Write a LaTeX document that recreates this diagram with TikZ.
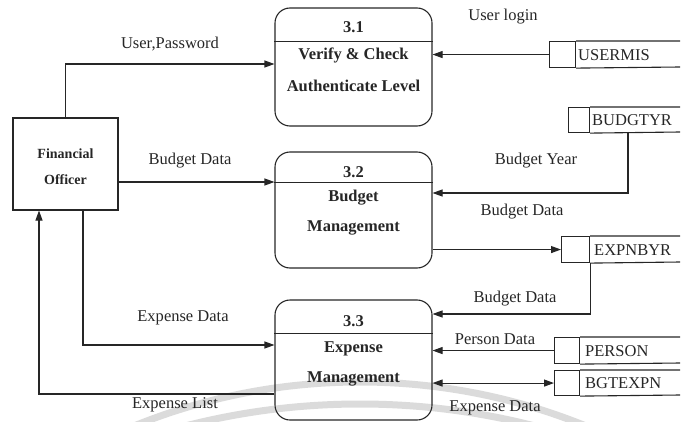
\documentclass[tikz,border=0pt]{standalone}
\usepackage{fontspec}
\setmainfont{Liberation Serif}
\usetikzlibrary{arrows.meta,calc}
\begin{document}
\begin{tikzpicture}[x=1pt,y=-1pt,
  ink/.style={draw=black!85, line width=1.1pt},
  flow/.style={ink, -{Triangle[length=10pt,width=7pt]}},
  biflow/.style={ink, {Triangle[length=10pt,width=7pt]}-{Triangle[length=10pt,width=7pt]}},
  proc/.style={ink, rounded corners=15pt, minimum width=157pt, inner sep=0pt},
  ext/.style={ink, minimum width=105pt, minimum height=92pt, inner sep=0pt},
  lbl/.style={text=black!85, font=\fontsize{16.5}{18}\selectfont, inner sep=0pt},
  blbl/.style={lbl, font=\fontsize{16.5}{18}\selectfont\bfseries},
  slot/.style={ink, inner sep=0pt, minimum height=26pt},
  stext/.style={lbl, anchor=west},
  wm/.style={draw=black!14, line width=7pt}
]
\useasboundingbox (0,0) rectangle (684,422);

% faint background arcs
\draw[wm] (360,982) circle[radius=600];
\draw[wm] (360,1104) circle[radius=700];

% external entity
\node[ext] (fo) at (65.5,164) {};
\node[blbl, font=\fontsize{14}{16}\selectfont\bfseries] (fo1) at (65.5,154) {Financial};
\node[blbl, font=\fontsize{14}{16}\selectfont\bfseries] (fo2) at (65.5,180) {Officer};

% processes
\node[proc, minimum height=118pt] (p31) at (353.5,67) {};
\draw[ink] ($(p31.north west)+(0,34)$) -- ($(p31.north east)+(0,34)$);
\node[blbl] (n31) at (353.5,27) {3.1};
\node[blbl] (t31a) at (353.5,55) {Verify \& Check};
\node[blbl] (t31b) at (353.5,86) {Authenticate Level};

\node[proc, minimum height=116pt] (p32) at (353.5,210) {};
\draw[ink] ($(p32.north west)+(0,31)$) -- ($(p32.north east)+(0,31)$);
\node[blbl] (n32) at (353.5,172) {3.2};
\node[blbl] (t32a) at (353.5,198) {Budget};
\node[blbl] (t32b) at (353.5,228) {Management};

\node[proc, minimum height=120pt] (p33) at (353.5,360) {};
\draw[ink] ($(p33.north west)+(0,34)$) -- ($(p33.north east)+(0,34)$);
\node[blbl] (n33) at (353.5,321) {3.3};
\node[blbl] (t33a) at (353.5,349) {Expense};
\node[blbl] (t33b) at (353.5,379) {Management};

% data stores: closed left slot, open right end
\node[slot, minimum width=26pt, anchor=north west] (usL) at (549,41) {};
\draw[ink] (usL.north east) -- (680,41) (usL.south east) -- (680,67);
\node[stext] (us) at (578,55) {USERMIS};

\node[slot, minimum width=21pt, minimum height=25pt, anchor=north west] (buL) at (568,107) {};
\draw[ink] (buL.north east) -- (680,107) (buL.south east) -- (680,132);
\node[stext] (bu) at (592,120) {BUDGTYR};
\coordinate (buOut) at (628,132);

\node[slot, minimum width=28pt, anchor=north west] (exL) at (561,236) {};
\draw[ink] (exL.north east) -- (680,236) (exL.south east) -- (680,262);
\node[stext] (ex) at (594,250) {EXPNBYR};

\node[slot, minimum width=25pt, anchor=north west] (peL) at (554,337) {};
\draw[ink] (peL.north east) -- (680,337) (peL.south east) -- (680,363);
\node[stext] (pe) at (585,351) {PERSON};

\node[slot, minimum width=25pt, minimum height=25pt, anchor=north west] (bgL) at (554,370) {};
\draw[ink] (bgL.north east) -- (680,370) (bgL.south east) -- (680,395);
\node[stext] (bg) at (585,383) {BGTEXPN};

% flows from and to the officer
\draw[flow] (fo.north) |- (p31.west |- 0,64);
\node[lbl] (l1) at (170,44) {User,Password};

\draw[flow] (fo.east |- 0,182) -- (p32.west |- 0,182);
\node[lbl] (l2) at (190,161) {Budget Data};

\draw[flow] (fo.south -| 83,0) |- (p33.west |- 0,345);
\node[lbl] (l3) at (183,318) {Expense Data};

\draw[flow] (p33.west |- 0,394) -| (fo.south -| 39,0);
\node[lbl] (l4) at (175,405) {Expense List};

% flows to and from the data stores
\draw[flow] (usL.west) -- (p31.east |- usL.west);
\node[lbl] (l5) at (503,17) {User login};

\draw[flow] (buOut) |- (p32.east |- 0,193);
\node[lbl] (l6) at (536,161) {Budget Year};

\draw[flow] (p32.east |- exL.west) -- (exL.west);
\node[lbl] (l7) at (522,212) {Budget Data};

\draw[flow] (exL.south east) |- (p33.east |- 0,314);
\node[lbl] (l8) at (515,299) {Budget Data};

\draw[flow] (peL.west) -- (p33.east |- peL.west);
\node[lbl] (l9) at (495,339) {Person Data};

\draw[biflow] (p33.east |- bgL.west) -- (bgL.west);
\node[lbl] (l10) at (495,408) {Expense Data};
\end{tikzpicture}
\end{document}
